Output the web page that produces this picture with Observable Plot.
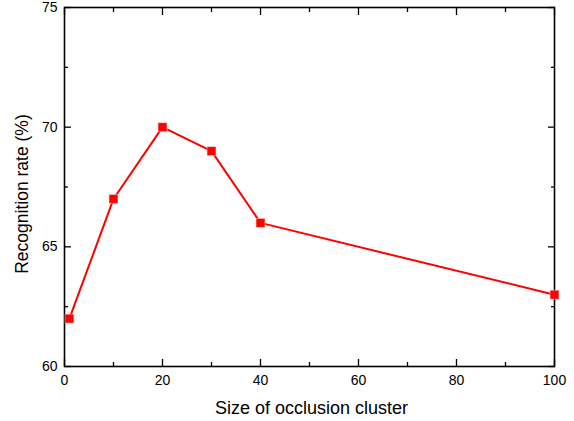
<!DOCTYPE html>
<html>
<head>
<meta charset="utf-8">
<script src="https://cdn.jsdelivr.net/npm/d3@7"></script>
<script src="https://cdn.jsdelivr.net/npm/@observablehq/plot@0.6"></script>
<style>
  html, body { margin: 0; padding: 0; background: #fff; }
  #chart svg { display: block; }
</style>
</head>
<body>
<div id="chart"></div>
<script>
const clusterSize = [1, 10, 20, 30, 40, 100];
const recognitionRate = [62, 67, 70, 69, 66, 63];
const xMajorTicks = [0, 20, 40, 60, 80, 100];
const xMinorTicks = [10, 30, 50, 70, 90];
const yMajorTicks = [60, 65, 70, 75];
const yMinorTicks = [62.5, 67.5, 72.5];
const xTitle = "Size of occlusion cluster";
const yTitle = "Recognition rate (%)";

const data = clusterSize.map((x, i) => ({x, y: recognitionRate[i]}));

const chart = Plot.plot({
  width: 574,
  height: 421,
  marginLeft: 64,
  marginRight: 20,
  marginTop: 7,
  marginBottom: 55,
  style: {fontFamily: "Liberation Sans, Arial, sans-serif", fontSize: "14px", color: "#000", background: "#fff"},
  x: {domain: [0, 100]},
  y: {domain: [60, 75]},
  marks: [
    // inward ticks on all sides
    Plot.axisX(xMajorTicks, {anchor: "bottom", tickSize: -7, text: null, label: null, strokeWidth: 1.3}),
    Plot.axisX(xMinorTicks, {anchor: "bottom", tickSize: -4, text: null, label: null, strokeWidth: 1.3}),
    Plot.axisX(xMajorTicks, {anchor: "top", tickSize: -7, text: null, label: null, strokeWidth: 1.3}),
    Plot.axisX(xMinorTicks, {anchor: "top", tickSize: -4, text: null, label: null, strokeWidth: 1.3}),
    Plot.axisY(yMajorTicks, {anchor: "left", tickSize: -7, text: null, label: null, strokeWidth: 1.3}),
    Plot.axisY(yMinorTicks, {anchor: "left", tickSize: -4, text: null, label: null, strokeWidth: 1.3}),
    Plot.axisY(yMajorTicks, {anchor: "right", tickSize: -7, text: null, label: null, strokeWidth: 1.3}),
    Plot.axisY(yMinorTicks, {anchor: "right", tickSize: -4, text: null, label: null, strokeWidth: 1.3}),
    // tick labels
    Plot.axisX(xMajorTicks, {anchor: "bottom", tickSize: 0, tickPadding: 9, fontSize: 14, label: null}),
    Plot.axisY(yMajorTicks, {anchor: "left", tickSize: 0, tickPadding: 7, fontSize: 14, label: null}),
    // axis titles
    Plot.text([xTitle], {frameAnchor: "bottom", text: d => d, dx: 2, dy: 42, fontSize: 18, lineAnchor: "middle"}),
    Plot.text([yTitle], {frameAnchor: "left", text: d => d, dx: -42, dy: 7, rotate: -90, fontSize: 17.5, textAnchor: "middle", lineAnchor: "middle"}),
    Plot.frame({stroke: "#000", strokeWidth: 1.6}),
    Plot.line(data, {x: "x", y: "y", stroke: "#ff0000", strokeWidth: 2}),
    Plot.dot(data, {x: "x", y: "y", symbol: "square", r: 5, fill: "#ff0000", stroke: "#ffcccc", strokeWidth: 0.5})
  ]
});
document.getElementById("chart").appendChild(chart);
</script>
</body>
</html>
